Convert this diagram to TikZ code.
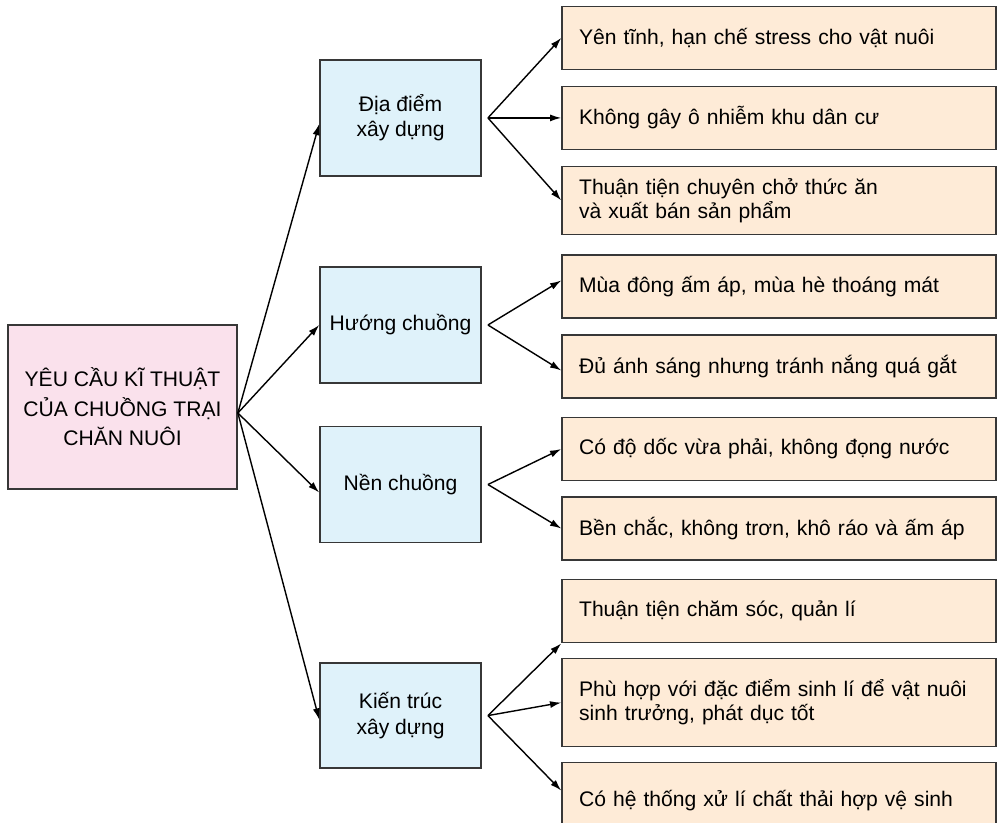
\documentclass[tikz,border=0pt]{standalone}
\usepackage{fontspec}
\setmainfont{Liberation Sans}
\usetikzlibrary{arrows.meta, positioning}

\definecolor{rootpink}{RGB}{250,225,236}
\definecolor{partblue}{RGB}{223,242,250}
\definecolor{needorange}{RGB}{254,235,215}
\definecolor{boxline}{RGB}{55,55,55}

\begin{document}
\begin{tikzpicture}[
        x = 0.025cm, y = -0.025cm,
        node distance = 4cm,
        on grid,
        >= {Latex[length = 8pt, width = 5pt]},
        box/.style = {draw = boxline, line width = 1.2pt, inner sep = 0pt},
        goal/.style = {box, fill = rootpink, minimum width = 5.725cm, minimum height = 4.1cm,
                       align = center, font = \fontsize{15}{21}\selectfont},
        part/.style = {box, fill = partblue, minimum width = 4.025cm, minimum height = 2.9cm,
                       align = center, font = \fontsize{15}{18}\selectfont},
        need/.style = {box, fill = needorange, minimum width = 10.85cm, minimum height = 1.575cm,
                       text width = 10cm, align = left, font = \fontsize{15}{17}\selectfont},
        link/.style = {->, line width = 1pt}
    ]

      \useasboundingbox (0,0) rectangle (999,822);

      \node[goal] (root) at (122.5,407) {YÊU CẦU KĨ THUẬT\\CỦA CHUỒNG TRẠI\\CHĂN NUÔI};

      \node[part] (dia) [above right = 7.225cm and 6.95cm of root] {Địa điểm\\xây dựng};
      \node[part] (huong) [below = 5.175cm of dia] {Hướng chuồng};
      \node[part] (nen) [below = 3.9875cm of huong] {Nền chuồng};
      \node[part, minimum height = 2.625cm] (kien) [below = 5.775cm of nen] {Kiến trúc\\xây dựng};

      \node[need] (d2) [right = 9.4625cm of dia] {Không gây ô nhiễm khu dân cư};
      \node[need] (d1) [above = 2cm of d2] {Yên tĩnh, hạn chế stress cho vật nuôi};
      \node[need, minimum height = 1.7cm] (d3) [below = 2.0625cm of d2] {Thuận tiện chuyên chở thức ăn\\và xuất bán sản phẩm};
      \node[need] (h1) [below = 2.15cm of d3] {Mùa đông ấm áp, mùa hè thoáng mát};
      \node[need] (h2) [below = 2cm of h1] {Đủ ánh sáng nhưng tránh nắng quá gắt};
      \node[need] (n1) [below = 2.0625cm of h2] {Có độ dốc vừa phải, không đọng nước};
      \node[need] (n2) [below = 1.9875cm of n1] {Bền chắc, không trơn, khô ráo và ấm áp};
      \node[need] (k1) [below = 2.0625cm of n2] {Thuận tiện chăm sóc, quản lí};
      \node[need, minimum height = 2.2cm] (k2) [below = 2.2875cm of k1] {Phù hợp với đặc điểm sinh lí để vật nuôi\\sinh trưởng, phát dục tốt};
      \node[need, minimum height = 1.9cm] (k3) [below = 2.45cm of k2] {Có hệ thống xử lí chất thải hợp vệ sinh};

      % forks
      \coordinate (root out) at ([yshift = -0.15cm] root.east);
      \coordinate (dia out) at ([xshift = 0.15cm] dia.east);
      \coordinate (huong out) at ([xshift = 0.15cm] huong.east);
      \coordinate (nen out) at ([xshift = 0.15cm] nen.east);
      \coordinate (kien out) at ([xshift = 0.15cm] kien.east);


      \path[link]

            (root out) edge ([yshift = -0.15cm] dia.west)
            (root out) edge (huong.west)
            (root out) edge ([yshift = -0.2cm] nen.west)
            (root out) edge ([yshift = -0.1cm] kien.west)

            (dia out) edge (d1.west)
            (dia out) edge (d2.west)
            (dia out) edge (d3.west)

            (huong out) edge ([yshift = 0.15cm] h1.west)
            (huong out) edge ([yshift = -0.1cm] h2.west)

            (nen out) edge (n1.west)
            (nen out) edge (n2.west)

            (kien out) edge (k1.south west)
            (kien out) edge (k2.west)
            (kien out) edge ([yshift = 0.25cm] k3.west);

    \end{tikzpicture}
\end{document}
